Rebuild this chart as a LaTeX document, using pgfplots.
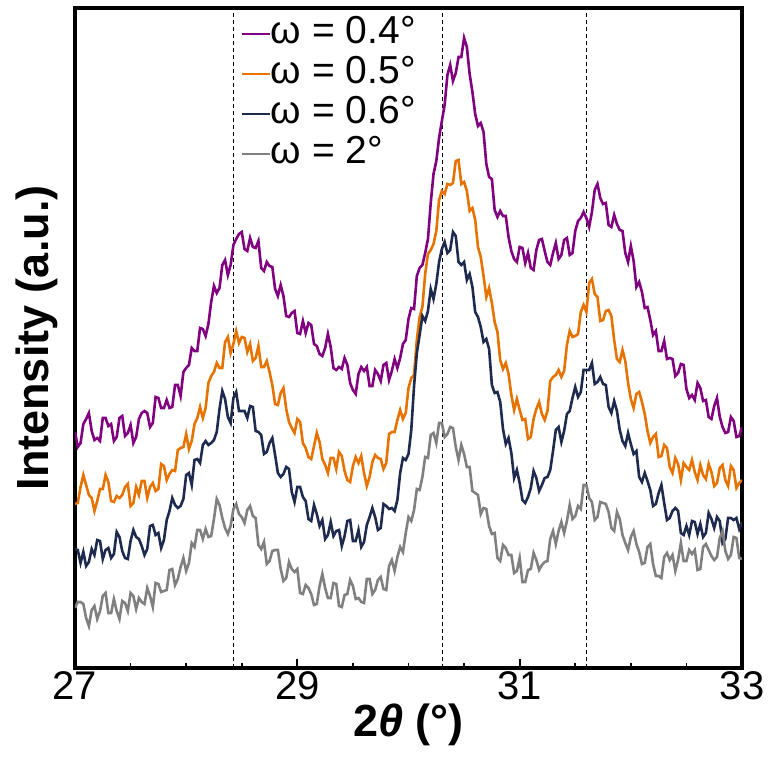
\documentclass[border=0pt]{standalone}
\usepackage{pgfplots}
\pgfplotsset{compat=1.18}
\usepackage{pgfplotstable}
\usepackage{fontspec}
\setmainfont{Liberation Sans}
\definecolor{cpurple}{RGB}{128,0,128}
\definecolor{corange}{RGB}{230,115,0}
\definecolor{cnavy}{RGB}{30,42,78}
\definecolor{cgray}{RGB}{128,128,128}
\pgfplotstableread{
x a b c d
27.000 236 164 119 60
27.025 221 165 118 66
27.050 225 181 105 66
27.075 244 193 116 64
27.100 249 183 102 50
27.125 255 173 106 42
27.150 237 170 119 58
27.175 228 157 113 62
27.200 230 167 128 49
27.225 227 179 127 57
27.250 250 179 109 72
27.275 250 193 118 75
27.300 242 186 120 55
27.325 244 167 110 55
27.350 227 166 114 69
27.375 231 172 136 57
27.400 250 170 131 49
27.425 252 173 117 67
27.450 232 181 110 65
27.475 235 184 109 57
27.500 243 162 127 75
27.525 225 165 138 72
27.550 231 181 131 59
27.575 249 173 129 70
27.600 255 187 122 66
27.625 257 187 113 64
27.650 255 170 119 80
27.675 241 181 142 72
27.700 245 185 143 61
27.725 271 177 133 85
27.750 270 179 135 84
27.775 260 204 120 76
27.800 260 202 128 77
27.825 268 188 148 78
27.850 260 194 157 98
27.875 261 198 170 99
27.900 283 197 163 83
27.925 283 218 160 89
27.950 272 220 162 101
27.975 296 221 169 110
28.000 300 234 193 97
28.025 303 219 195 105
28.050 320 227 183 125
28.075 317 244 208 121
28.100 317 250 209 138
28.125 340 261 205 138
28.150 339 250 223 129
28.175 332 260 227 139
28.200 344 285 223 131
28.225 366 292 225 132
28.250 382 296 228 149
28.275 375 305 236 169
28.300 380 300 259 163
28.325 403 300 277 150
28.350 408 326 269 140
28.375 393 331 251 134
28.400 403 315 245 142
28.425 423 324 270 159
28.450 429 337 276 164
28.475 434 325 257 154
28.500 436 331 257 151
28.525 419 330 257 145
28.550 417 316 250 158
28.575 430 324 262 162
28.600 421 307 261 152
28.625 420 310 237 150
28.650 427 322 236 123
28.675 400 301 233 119
28.700 397 301 214 126
28.725 406 307 216 104
28.750 402 296 225 107
28.775 401 283 230 117
28.800 379 264 213 118
28.825 372 263 195 118
28.850 383 275 191 99
28.875 372 280 194 87
28.900 352 259 201 90
28.925 351 246 199 106
28.950 355 240 176 99
28.975 357 235 166 96
29.000 335 249 181 99
29.025 334 246 181 75
29.050 347 225 171 74
29.075 335 220 167 83
29.100 345 211 149 80
29.125 343 209 147 74
29.150 324 222 163 63
29.175 322 235 154 64
29.200 314 226 142 82
29.225 312 209 148 94
29.250 320 203 129 80
29.275 334 195 133 70
29.300 321 210 146 70
29.325 300 210 132 85
29.350 298 199 137 84
29.375 301 216 138 62
29.400 299 212 122 61
29.425 310 197 132 73
29.450 303 188 147 74
29.475 285 186 148 88
29.500 278 202 127 82
29.525 274 211 127 69
29.550 294 205 138 70
29.575 301 212 121 66
29.600 297 195 126 65
29.625 301 182 143 89
29.650 282 191 151 89
29.675 282 206 160 74
29.700 298 213 151 78
29.725 294 210 138 88
29.750 287 209 140 91
29.775 303 199 164 79
29.800 305 205 162 78
29.825 288 234 159 102
29.850 297 236 160 108
29.875 309 236 157 97
29.900 300 248 168 111
29.925 310 258 195 121
29.950 324 249 210 116
29.975 328 255 208 135
30.000 349 280 214 151
30.025 360 290 238 147
30.050 359 293 282 158
30.075 392 328 315 179
30.100 400 351 333 178
30.125 403 361 352 191
30.150 415 394 347 211
30.175 429 414 357 210
30.200 465 418 379 233
30.225 494 424 369 235
30.250 507 437 384 225
30.275 530 468 406 245
30.300 547 477 419 245
30.325 563 474 426 231
30.350 593 484 415 234
30.375 603 483 418 241
30.400 587 485 436 240
30.425 595 507 432 221
30.450 611 508 406 208
30.475 611 484 403 223
30.500 630 486 406 214
30.525 621 477 388 201
30.550 594 457 394 201
30.575 576 460 381 177
30.600 554 448 356 175
30.625 542 421 351 173
30.650 545 411 341 154
30.675 536 392 326 160
30.700 504 371 329 159
30.725 491 380 319 142
30.750 489 365 283 134
30.775 458 346 275 135
30.800 451 336 276 110
30.825 457 308 266 107
30.850 452 299 239 123
30.875 452 305 224 120
30.900 431 294 230 113
30.925 417 273 215 113
30.950 409 258 190 95
30.975 406 269 198 97
31.000 421 258 185 110
31.025 420 248 168 86
31.050 405 249 165 86
31.075 415 229 171 98
31.100 400 231 180 99
31.125 398 249 197 115
31.150 418 259 190 108
31.175 428 266 177 98
31.200 429 254 183 103
31.225 417 248 190 106
31.250 406 257 191 107
31.275 403 287 198 129
31.300 415 291 217 137
31.325 425 293 238 124
31.350 409 298 241 137
31.375 413 291 226 146
31.400 428 297 237 135
31.425 430 323 254 147
31.450 413 337 257 163
31.475 415 331 270 149
31.500 437 332 281 152
31.525 447 334 271 162
31.550 450 356 276 159
31.575 456 363 298 183
31.600 450 356 298 183
31.625 441 385 298 170
31.650 456 389 305 166
31.675 478 374 284 148
31.700 484 371 286 151
31.725 470 347 291 166
31.750 464 348 284 165
31.775 465 357 283 164
31.800 443 358 261 156
31.825 441 352 255 140
31.850 453 328 267 137
31.875 444 309 257 156
31.900 438 306 238 149
31.925 437 318 227 133
31.950 415 307 222 125
31.975 406 285 235 118
32.000 422 269 224 131
32.025 407 260 214 137
32.050 381 274 217 124
32.075 386 276 191 116
32.100 376 266 186 104
32.125 360 254 195 105
32.150 361 237 187 121
32.175 348 225 178 124
32.200 333 231 162 104
32.225 337 234 164 92
32.250 317 211 175 92
32.275 317 212 183 90
32.300 327 223 165 111
32.325 309 220 148 115
32.350 310 201 150 108
32.375 309 195 157 113
32.400 292 210 160 97
32.425 295 204 157 108
32.450 304 188 135 125
32.475 303 205 133 107
32.500 279 201 142 107
32.525 270 198 133 118
32.550 273 208 147 114
32.575 268 196 146 118
32.600 285 188 134 98
32.625 280 203 144 99
32.650 267 193 131 121
32.675 268 189 135 124
32.700 251 204 155 118
32.725 249 196 149 112
32.750 262 182 140 108
32.775 270 185 151 111
32.800 251 200 147 130
32.825 241 203 125 137
32.850 235 188 129 117
32.875 236 182 150 109
32.900 251 202 150 113
32.925 247 198 148 131
32.950 231 180 150 130
32.975 232 185 139 110
33.000 241 188 146 109
}\datatab
\begin{document}
\begin{tikzpicture}
\begin{axis}[
 scale only axis, width=667pt, height=660pt,
 xmin=27, xmax=33, ymin=0, ymax=660,
 xtick={27,29,31,33}, minor x tick num=3,
 ytick=\empty,
 tick align=inside, xtick pos=bottom,
 major tick length=9pt, minor tick length=5pt,
 every tick/.style={black, line width=1.8pt},
 axis line style={line width=3.2pt},
 /pgf/number format/assume math mode=true,
 ticklabel style={font=\fontsize{40}{48}\selectfont},
 xlabel={\bfseries 2\textit{θ} (°)},
 ylabel={\bfseries Intensity (a.u.)},
 label style={font=\fontsize{45}{54}\selectfont},
 xlabel style={inner sep=1pt},
 ylabel style={at={(axis description cs:-0.025,0.5)}, anchor=south, inner sep=0pt},
 legend style={at={(axis description cs:0.244,0.994)}, anchor=north west, draw=none, fill=none,
   font=\fontsize{39}{40}\selectfont, nodes={inner sep=0pt, text height=29pt, text depth=11pt}, row sep=0pt},
 legend cell align=left,
 legend image code/.code={\draw[#1, line width=2pt] (0pt,0pt) -- (28pt,0pt);},
]
\addplot[black, line width=1pt, dash pattern=on 4pt off 3pt, forget plot] coordinates {(28.43,0) (28.43,660)};
\addplot[black, line width=1pt, dash pattern=on 4pt off 3pt, forget plot] coordinates {(30.31,0) (30.31,660)};
\addplot[black, line width=1pt, dash pattern=on 4pt off 3pt, forget plot] coordinates {(31.60,0) (31.60,660)};
\addplot[cpurple, line width=2.6pt] table[x=x,y=a]{\datatab};
\addlegendentry{ω = 0.4°}
\addplot[corange, line width=2.6pt] table[x=x,y=b]{\datatab};
\addlegendentry{ω = 0.5°}
\addplot[cnavy, line width=2.6pt] table[x=x,y=c]{\datatab};
\addlegendentry{ω = 0.6°}
\addplot[cgray, line width=2.6pt] table[x=x,y=d]{\datatab};
\addlegendentry{ω = 2°}
\end{axis}
\path ([shift={(-75pt,-107pt)}]current axis.south west) rectangle ++(764pt,775pt);
\end{tikzpicture}
\end{document}
